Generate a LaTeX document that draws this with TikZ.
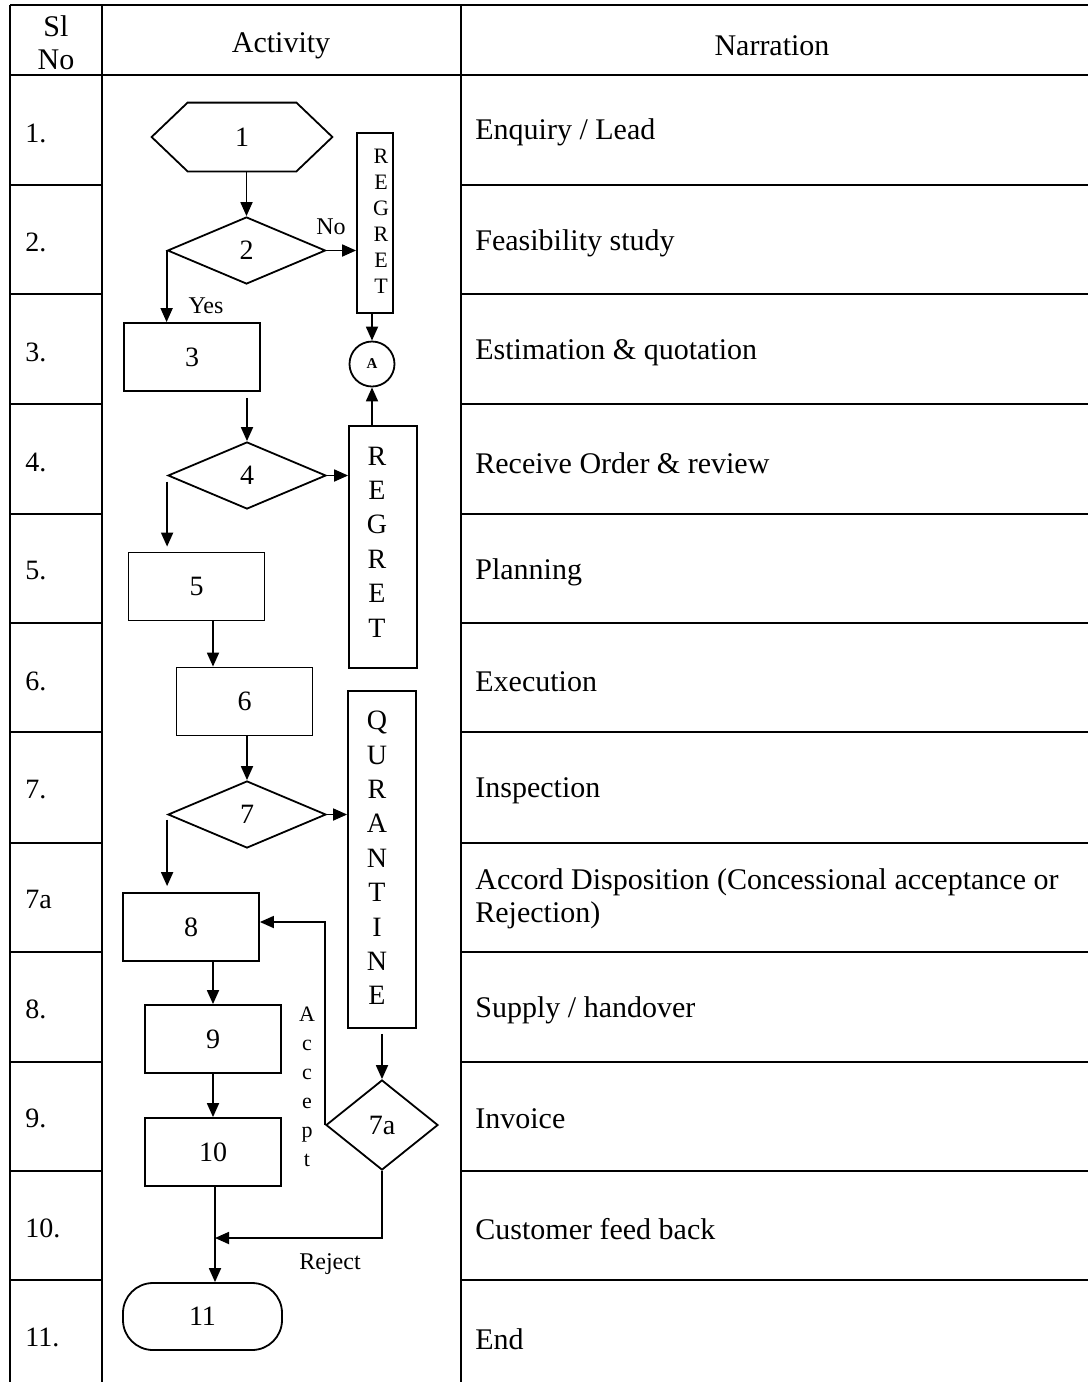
\documentclass[tikz,border=0pt]{standalone}
\usepackage{fontspec}
\setmainfont{Liberation Serif}
\usetikzlibrary{arrows.meta,shapes.geometric}

\begin{document}
\begin{tikzpicture}[x=0.5pt,y=-0.5pt,
  tbl/.style={line width=1.1pt},
  body/.style={font=\fontsize{15}{17}\selectfont,inner sep=0pt},
  slno/.style={font=\fontsize{14}{16}\selectfont,anchor=west,inner sep=0pt},
  narr/.style={font=\fontsize{15}{16.5}\selectfont,anchor=west,align=left,inner sep=0pt},
  box/.style={draw,line width=0.9pt,inner sep=0pt,minimum width=68pt,minimum height=34pt,
              font=\fontsize{14}{16}\selectfont},
  dec/.style={draw,diamond,line width=0.9pt,inner sep=0pt,minimum width=79pt,minimum height=33.5pt,
              font=\fontsize{14}{16}\selectfont},
  tall/.style={draw,line width=0.9pt,inner sep=0pt},
  letters/.style={align=center,inner sep=0pt},
  lbl/.style={font=\fontsize{12}{14}\selectfont,inner sep=0pt},
  arr/.style={line width=0.9pt,-{Triangle[length=7pt,width=6pt]}},
  ln/.style={line width=0.9pt}
]
\useasboundingbox (0,0) rectangle (1088,1382);

% ---------- table grid (the activity column is one merged cell) ----------
\draw[tbl] (10,5) -- (1088,5);
\draw[tbl] (10,75) -- (1088,75);
\foreach \y in {185,294,404,514,623,732,843,952,1062,1171,1280}{
  \draw[tbl] (10,\y) -- (102,\y);
  \draw[tbl] (461,\y) -- (1088,\y);
}
\draw[tbl] (10,5) -- (10,1382);
\draw[tbl] (102,5) -- (102,1382);
\draw[tbl] (461,5) -- (461,1382);

% ---------- header ----------
\node[body,align=center,font=\fontsize{15}{16.5}\selectfont] (hsl) at (56,43) {Sl\\No};
\node[body] (hact) at (281,46) {Activity};
\node[body] (hnar) at (772,46) {Narration};

% ---------- serial numbers ----------
\node[slno] (n1)  at (25,133)  {1.};
\node[slno] (n2)  at (25,242)  {2.};
\node[slno] (n3)  at (25,352)  {3.};
\node[slno] (n4)  at (25,462)  {4.};
\node[slno] (n5)  at (25,571)  {5.};
\node[slno] (n6)  at (25,681)  {6.};
\node[slno] (n7)  at (25,790)  {7.};
\node[slno] (n7a) at (25,899)  {7a};
\node[slno] (n8)  at (25,1009) {8.};
\node[slno] (n9)  at (25,1118) {9.};
\node[slno] (n10) at (25,1228) {10.};
\node[slno] (n11) at (25,1337) {11.};

% ---------- narration ----------
\node[narr] (t1)  at (475,132)  {Enquiry / Lead};
\node[narr] (t2)  at (475,243)  {Feasibility study};
\node[narr] (t3)  at (475,353)  {Estimation \& quotation};
\node[narr] (t4)  at (475,463)  {Receive Order \& review};
\node[narr] (t5)  at (475,572)  {Planning};
\node[narr] (t6)  at (475,682)  {Execution};
\node[narr] (t7)  at (475,791)  {Inspection};
\node[narr] (t7a) at (475,899)  {Accord Disposition (Concessional acceptance or\\Rejection)};
\node[narr] (t8)  at (475,1010) {Supply / handover};
\node[narr] (t9)  at (475,1119) {Invoice};
\node[narr] (t10) at (475,1229) {Customer feed back};
\node[narr] (t11) at (475,1339) {End};

% ---------- flowchart shapes ----------
% hexagon start
\node[inner sep=0pt,minimum width=90pt,minimum height=34pt,font=\fontsize{14}{16}\selectfont] (h1) at (242,137) {1};
\draw[ln] (h1.west) -- ([xshift=18pt]h1.north west) -- ([xshift=-18pt]h1.north east)
  -- (h1.east) -- ([xshift=-18pt]h1.south east) -- ([xshift=18pt]h1.south west) -- cycle;

\node[dec] (d2) at (246.5,250.5) {2};
\node[tall,minimum width=18pt,minimum height=90pt] (rg1) at (375,223) {};
\node[letters,font=\fontsize{11}{13}\selectfont] (rg1t) at (381,221) {R\\E\\G\\R\\E\\T};

\node[box] (b3) at (192,357) {3};
\node[draw,circle,line width=0.9pt,inner sep=0pt,minimum size=22.5pt,
      font=\fontsize{7.5}{8}\selectfont\bfseries] (ca) at (372,364) {A};

\node[dec] (d4) at (247,475.5) {4};
\node[tall,minimum width=34pt,minimum height=121pt] (rg2) at (383,547) {};
\node[letters,font=\fontsize{14}{17.2}\selectfont] (rg2t) at (377,542) {R\\E\\G\\R\\E\\T};

\node[box] (b5) at (196.5,586.5) {5};
\node[box] (b6) at (244.5,701.5) {6};
\node[dec] (d7) at (247,814.5) {7};
\node[tall,minimum width=34pt,minimum height=168.5pt] (qt) at (382,859.5) {};
\node[letters,font=\fontsize{14}{17.2}\selectfont] (qtt) at (377,858) {Q\\U\\R\\A\\N\\T\\I\\N\\E};

\node[box] (b8)  at (191,927)  {8};
\node[box] (b9)  at (213,1039) {9};
\node[box] (b10) at (213,1152) {10};
\node[dec,minimum width=56pt,minimum height=45pt] (d7a) at (382,1125) {7a};
\node[draw,line width=0.9pt,rounded corners=15pt,inner sep=0pt,minimum width=79.5pt,
      minimum height=33.5pt,font=\fontsize{14}{16}\selectfont] (t11n) at (202.5,1316.5) {11};

% ---------- connectors ----------
\draw[arr] (d2.north |- h1.south) -- (d2.north);
\draw[arr] (d2.east) -- (d2.east -| rg1.west);
\draw[arr] (d2.west) -- (d2.west |- b3.north);
\draw[arr] (ca.north |- rg1.south) -- (ca.north);
\draw[arr,shorten <=3pt] (d4.north |- b3.south) -- (d4.north);
\draw[arr] (d4.east) -- (d4.east -| rg2.west);
\draw[arr] (ca.south |- rg2.north) -- (ca.south);
\draw[arr,shorten <=3pt,shorten >=2.5pt] (d4.west) -- (d4.west |- b5.north);
\draw[arr] ([xshift=8.25pt]b5.south) -- ([xshift=8.25pt]b5.south |- b6.north);
\draw[arr] (d7.north |- b6.south) -- (d7.north);
\draw[arr] (d7.east) -- (d7.east -| qt.west);
\draw[arr,shorten <=2.5pt,shorten >=3pt] (d7.west) -- (d7.west |- b8.north);
\draw[arr] (b9.north |- b8.south) -- (b9.north);
\draw[arr] (b10.north |- b9.south) -- (b10.north);
\draw[arr] ([xshift=1pt]b10.south) -- ([xshift=1pt]b10.south |- t11n.north);
\draw[arr,shorten <=2.5pt] (d7a.north |- qt.south) -- (d7a.north);
\coordinate (rj) at (215,1238);
\draw[arr] (d7a.south) -- (d7a.south |- rj) -- (rj);
\draw[arr] (d7a.west) -- (d7a.west |- 0,922) -- ([yshift=2.5pt]b8.east);

% ---------- connector labels ----------
\node[lbl] (lno)  at (331,227)  {No};
\node[lbl] (lyes) at (206,306)  {Yes};
\node[lbl] (lrej) at (330,1264) {Reject};
\node[letters,font=\fontsize{11}{14.5}\selectfont] (lacc) at (307,1087) {A\\c\\c\\e\\p\\t};
\end{tikzpicture}
\end{document}
